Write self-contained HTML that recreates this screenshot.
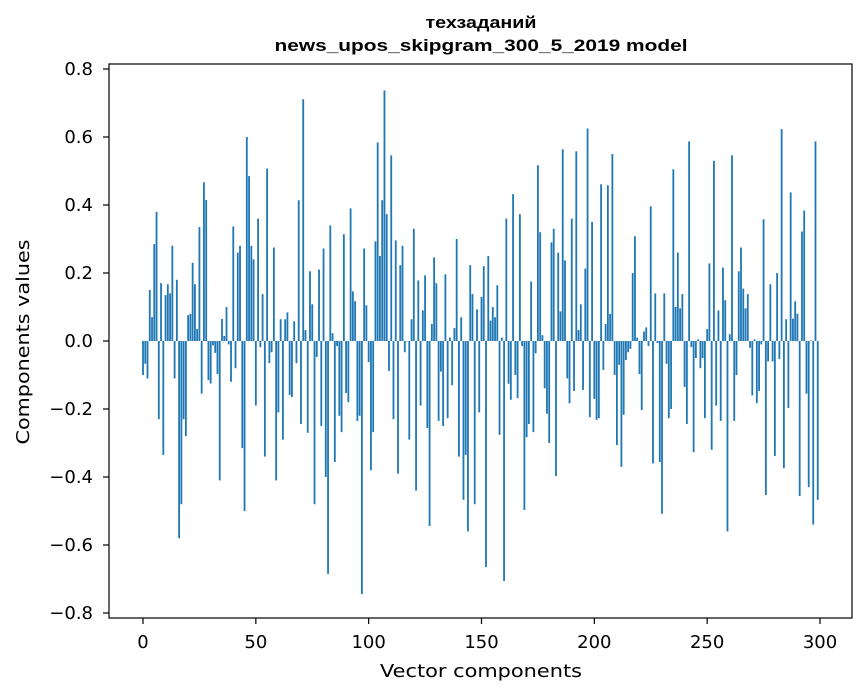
<!DOCTYPE html>
<html><head><meta charset="utf-8"><style>
body{margin:0;background:#fff;}
svg{display:block;font-family:"DejaVu Sans","Liberation Sans",sans-serif;}
</style></head><body>
<svg id="chart" width="867" height="696" viewBox="0 0 867 696" xmlns="http://www.w3.org/2000/svg">
<rect width="867" height="696" fill="#fff"/>
<text x="481" y="28" text-anchor="middle" font-size="17" font-weight="bold" font-family="Liberation Sans, sans-serif" textLength="111" lengthAdjust="spacingAndGlyphs">техзаданий</text>
<text x="481" y="51" text-anchor="middle" font-size="17" font-weight="bold" font-family="Liberation Sans, sans-serif" textLength="413" lengthAdjust="spacingAndGlyphs">news_upos_skipgram_300_5_2019 model</text>
<g id="bars"></g>
<g id="xticks"></g>
<g id="yticks"></g>
<rect x="109" y="64" width="743" height="554" fill="none" stroke="#000" stroke-width="1.2"/>
<text x="481" y="677" text-anchor="middle" font-size="18" textLength="202" lengthAdjust="spacingAndGlyphs">Vector components</text>
<text transform="translate(29,342) rotate(-90)" text-anchor="middle" font-size="18" textLength="205" lengthAdjust="spacingAndGlyphs">Components values</text>
</svg>
<script>
const values = [
-0.10,-0.067,-0.11,0.15,0.07,0.285,0.38,-0.23,0.17,-0.335,
0.135,0.167,0.14,0.28,-0.11,0.18,-0.58,-0.48,-0.23,-0.28,
0.076,0.08,0.23,0.167,0.035,0.335,-0.155,0.467,0.415,-0.115,
-0.125,-0.013,-0.035,-0.097,-0.41,0.065,0.015,0.10,-0.01,-0.12,
0.337,-0.08,0.26,0.28,-0.315,-0.50,0.60,0.485,0.28,0.24,
-0.19,0.36,-0.018,0.138,-0.34,0.507,-0.065,-0.033,0.275,-0.41,
-0.21,0.064,-0.29,0.064,0.084,-0.159,-0.165,0.058,-0.065,0.414,
-0.244,0.711,0.032,-0.27,0.205,0.108,-0.48,-0.047,0.21,-0.25,
0.272,-0.40,-0.685,0.34,0.023,-0.356,-0.015,-0.22,-0.268,0.314,
-0.153,-0.18,0.39,0.146,0.117,-0.235,-0.22,-0.744,0.272,0.105,
-0.062,-0.38,-0.268,0.293,0.584,0.25,0.414,0.737,0.373,-0.088,
0.546,-0.23,0.296,-0.39,0.223,0.28,-0.033,0.0,-0.29,0.064,
0.33,-0.44,0.178,-0.19,0.09,0.193,-0.256,-0.544,0.05,0.246,
0.17,-0.235,-0.09,-0.25,0.196,-0.227,0.01,-0.13,0.038,0.30,
-0.34,0.07,-0.467,-0.335,-0.56,0.223,0.138,-0.48,0.093,-0.21,
0.13,0.22,-0.665,0.25,0.06,0.10,0.07,0.164,-0.276,0.01,
-0.706,0.36,-0.126,-0.173,0.432,-0.10,-0.168,0.373,-0.015,-0.497,
-0.283,-0.244,0.175,-0.268,-0.036,0.517,0.32,0.017,-0.139,-0.214,
-0.30,0.29,0.33,-0.397,0.26,0.087,0.564,0.237,-0.11,-0.183,
0.36,-0.147,0.558,0.032,0.108,-0.144,0.213,0.625,-0.224,0.35,
-0.17,-0.232,-0.227,0.461,-0.085,0.05,0.458,0.08,0.55,-0.10,
-0.306,-0.07,-0.37,-0.217,-0.056,-0.033,-0.023,0.20,0.308,0.01,
-0.097,-0.203,0.028,0.04,-0.015,0.396,-0.36,0.14,-0.006,-0.356,
-0.508,0.14,-0.067,-0.227,-0.20,0.505,0.10,0.26,0.096,0.138,
-0.135,-0.244,0.587,-0.018,-0.327,-0.05,0.005,-0.08,-0.05,-0.227,
0.035,0.228,-0.32,0.53,-0.19,0.09,-0.235,0.216,0.12,-0.56,
0.02,0.546,-0.235,-0.10,0.205,0.275,0.154,0.096,0.138,-0.02,
-0.16,0.005,-0.183,-0.147,-0.01,0.358,-0.453,-0.06,0.167,-0.06,
-0.338,0.20,-0.053,0.623,-0.374,0.064,-0.197,0.437,0.066,0.117,
0.08,-0.456,0.322,0.384,-0.155,-0.43,0.002,-0.54,0.587,-0.467
];
const xTickValues = [0,50,100,150,200,250,300];
const xTickLabels = ["0","50","100","150","200","250","300"];
const yTickValues = [-0.8,-0.6,-0.4,-0.2,0,0.2,0.4,0.6,0.8];
const yTickLabels = ["\u22120.8","\u22120.6","\u22120.4","\u22120.2","0.0","0.2","0.4","0.6","0.8"];

const NS = "http://www.w3.org/2000/svg";
function xScale(i){ return 143 + i * (820 - 143) / 300; }
function yScale(v){ return 341 - v * 340; }

const barsG = document.getElementById('bars');
values.forEach((v, i) => {
  const r = document.createElementNS(NS, 'rect');
  const w = 0.8 * (820 - 143) / 300;
  const y0 = yScale(0), y1 = yScale(v);
  r.setAttribute('x', xScale(i) - w / 2);
  r.setAttribute('y', Math.min(y0, y1));
  r.setAttribute('width', w);
  r.setAttribute('height', Math.max(Math.abs(y1 - y0), 0.3));
  r.setAttribute('fill', '#1f77b4');
  
  
  barsG.appendChild(r);
});

const xg = document.getElementById('xticks');
xTickValues.forEach((t, k) => {
  const x = xScale(t);
  const l = document.createElementNS(NS, 'line');
  l.setAttribute('x1', x); l.setAttribute('x2', x);
  l.setAttribute('y1', 618); l.setAttribute('y2', 624);
  l.setAttribute('stroke', '#000'); l.setAttribute('stroke-width', '1.2');
  
  
  xg.appendChild(l);
  const tx = document.createElementNS(NS, 'text');
  tx.setAttribute('x', x); tx.setAttribute('y', 648);
  tx.setAttribute('text-anchor', 'middle'); tx.setAttribute('font-size', '18');
  tx.textContent = xTickLabels[k];
  
  
  xg.appendChild(tx);
});

const yg = document.getElementById('yticks');
yTickValues.forEach((t, k) => {
  const y = yScale(t);
  const l = document.createElementNS(NS, 'line');
  l.setAttribute('x1', 103); l.setAttribute('x2', 109);
  l.setAttribute('y1', y); l.setAttribute('y2', y);
  l.setAttribute('stroke', '#000'); l.setAttribute('stroke-width', '1.2');
  
  
  yg.appendChild(l);
  const tx = document.createElementNS(NS, 'text');
  tx.setAttribute('x', 93); tx.setAttribute('y', y + 6);
  tx.setAttribute('text-anchor', 'end'); tx.setAttribute('font-size', '18');
  tx.textContent = yTickLabels[k];
  
  
  yg.appendChild(tx);
});
</script>
</body></html>
